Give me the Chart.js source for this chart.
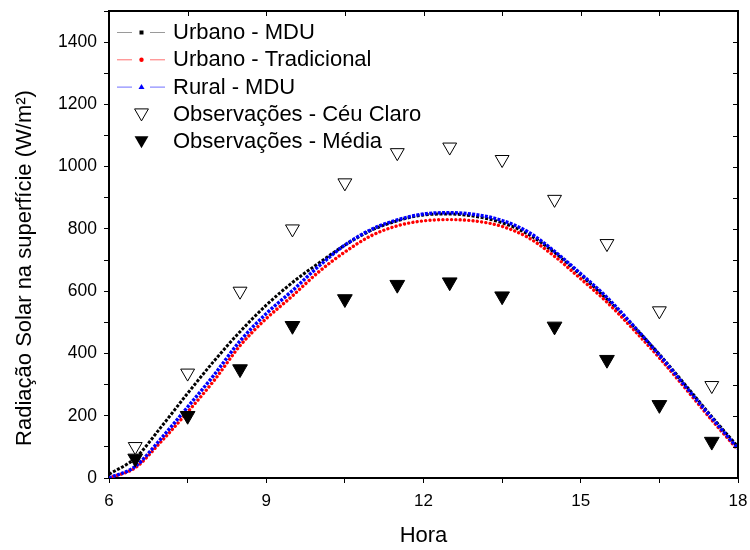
<!DOCTYPE html>
<html>
<head>
<meta charset="utf-8">
<script src="https://cdn.jsdelivr.net/npm/chart.js@4.4.1/dist/chart.umd.min.js"></script>
<style>
  html, body { margin: 0; padding: 0; background: #fff; }
</style>
</head>
<body>
<canvas id="chart" width="750" height="550"></canvas>
<script>
// model curves, every half hour
const hours = [6, 6.5, 7, 7.5, 8, 8.5, 9, 9.5, 10, 10.5, 11, 11.5, 12, 12.5, 13, 13.5, 14, 14.5, 15, 15.5, 16, 16.5, 17, 17.5, 18];
const urbanoMdu = [12, 64, 165, 272, 375, 470, 555, 628, 690, 748, 795, 826, 845, 848, 840, 820, 783, 724, 652, 574, 488, 397, 298, 197, 100];
const urbanoTradicional = [0, 33, 118, 212, 312, 425, 512, 585, 662, 726, 778, 810, 826, 830, 825, 808, 772, 712, 640, 565, 478, 386, 287, 186, 90];
const ruralMdu = [0, 37, 128, 228, 330, 440, 528, 602, 680, 748, 798, 829, 848, 852, 846, 827, 790, 728, 656, 580, 490, 395, 294, 193, 95];

// observations
const obsHours = [6.5, 7.5, 8.5, 9.5, 10.5, 11.5, 12.5, 13.5, 14.5, 15.5, 16.5, 17.5];
const ceuClaro = [101, 337, 600, 800, 948, 1045, 1063, 1023, 895, 753, 537, 297];
const media = [63, 200, 350, 489, 575, 621, 629, 584, 487, 380, 235, 117];

const xTickStep = 1.5;
const yTickStep = 100;

const FONT = "'Liberation Sans', Arial, sans-serif";

function toPoints(xs, ys) {
  return xs.map((x, i) => ({ x: x, y: ys[i] }));
}

// top and right frame with inward ticks, plus the y title
const frameTicks = {
  id: 'frameTicks',
  afterDraw(chart) {
    const ctx = chart.ctx;
    const area = chart.chartArea;
    const xScale = chart.scales.x;
    const yScale = chart.scales.y;
    ctx.save();
    ctx.strokeStyle = '#000';
    ctx.lineWidth = 2;
    ctx.beginPath();
    ctx.moveTo(area.left - 1, area.top);
    ctx.lineTo(area.right, area.top);
    ctx.lineTo(area.right, area.bottom + 1);
    ctx.stroke();
    ctx.lineWidth = 1;
    ctx.beginPath();
    xScale.ticks.forEach(t => {
      const px = Math.round(xScale.getPixelForValue(t.value)) + 0.5;
      ctx.moveTo(px, area.top);
      ctx.lineTo(px, area.top + 5);
    });
    yScale.ticks.forEach(t => {
      const py = Math.round(yScale.getPixelForValue(t.value)) + 0.5;
      ctx.moveTo(area.right, py);
      ctx.lineTo(area.right - 5, py);
    });
    ctx.stroke();

    ctx.translate(25, 268);
    ctx.rotate(-Math.PI / 2);
    ctx.font = '22px ' + FONT;
    ctx.fillStyle = '#000';
    ctx.textAlign = 'center';
    ctx.textBaseline = 'middle';
    ctx.fillText('Radiação Solar na superfície (W/m²)', 0, 0);
    ctx.restore();
  }
};

function drawTriangleDown(ctx, x, y, r, filled) {
  ctx.beginPath();
  ctx.moveTo(x - r * 0.866, y - r * 0.5);
  ctx.lineTo(x + r * 0.866, y - r * 0.5);
  ctx.lineTo(x, y + r);
  ctx.closePath();
  if (filled) {
    ctx.fillStyle = '#000';
    ctx.fill();
  } else {
    ctx.fillStyle = '#fff';
    ctx.fill();
    ctx.strokeStyle = '#000';
    ctx.lineWidth = 1;
    ctx.stroke();
  }
}

// legend inside the plot, drawn like the original (line - symbol - line)
const insideLegend = {
  id: 'insideLegend',
  afterDraw(chart) {
    const ctx = chart.ctx;
    const top = 32;
    const step = 27.3;
    ctx.save();
    ctx.font = '22px ' + FONT;
    ctx.textBaseline = 'middle';
    chart.data.datasets.forEach((ds, i) => {
      const y = top + i * step;
      const cx = 141.5;
      if (ds.legendLine) {
        ctx.strokeStyle = ds.legendLine;
        ctx.lineWidth = 1;
        ctx.beginPath();
        ctx.moveTo(117, y + 0.5);
        ctx.lineTo(132, y + 0.5);
        ctx.moveTo(150, y + 0.5);
        ctx.lineTo(165, y + 0.5);
        ctx.stroke();
        ctx.fillStyle = ds.borderColor;
        if (ds.legendMark === 'square') {
          ctx.fillRect(cx - 2, y - 1.5, 4, 4);
        } else if (ds.legendMark === 'circle') {
          ctx.beginPath();
          ctx.arc(cx, y + 0.5, 2.2, 0, Math.PI * 2);
          ctx.fill();
        } else {
          ctx.beginPath();
          ctx.moveTo(cx, y - 2.5);
          ctx.lineTo(cx + 3, y + 2.5);
          ctx.lineTo(cx - 3, y + 2.5);
          ctx.closePath();
          ctx.fill();
        }
      } else {
        drawTriangleDown(ctx, cx, y - 1, 8, ds.backgroundColor === '#000');
      }
      ctx.fillStyle = '#000';
      ctx.fillText(ds.label, 173, y + 1);
    });
    ctx.restore();
  }
};

const chartConfig = {
  type: 'scatter',
  data: {
    datasets: [
      {
        label: 'Urbano - MDU',
        data: toPoints(hours, urbanoMdu),
        showLine: true,
        borderColor: '#000',
        borderWidth: 3,
        borderDash: [3, 1.6],
        borderCapStyle: 'butt',
        cubicInterpolationMode: 'monotone',
        pointRadius: 0,
        order: 3,
        legendLine: '#9a9a9a',
        legendMark: 'square'
      },
      {
        label: 'Urbano - Tradicional',
        data: toPoints(hours, urbanoTradicional),
        showLine: true,
        borderColor: '#ff0000',
        borderWidth: 3.4,
        borderDash: [0.01, 4.3],
        borderCapStyle: 'round',
        cubicInterpolationMode: 'monotone',
        pointRadius: 0,
        order: 2,
        legendLine: '#ff7070',
        legendMark: 'circle'
      },
      {
        label: 'Rural - MDU',
        data: toPoints(hours, ruralMdu),
        showLine: true,
        borderColor: '#0000ff',
        borderWidth: 3.4,
        borderDash: [3, 1.3],
        borderCapStyle: 'butt',
        cubicInterpolationMode: 'monotone',
        pointRadius: 0,
        order: 1,
        legendLine: '#7070ff',
        legendMark: 'triangle'
      },
      {
        label: 'Observações - Céu Claro',
        data: toPoints(obsHours, ceuClaro),
        pointStyle: 'triangle',
        rotation: 180,
        pointRadius: 8,
        pointHoverRadius: 8,
        backgroundColor: '#fff',
        borderColor: '#000',
        borderWidth: 1,
        order: 0
      },
      {
        label: 'Observações - Média',
        data: toPoints(obsHours, media),
        pointStyle: 'triangle',
        rotation: 180,
        pointRadius: 8.5,
        pointHoverRadius: 8.5,
        backgroundColor: '#000',
        borderColor: '#000',
        borderWidth: 1,
        order: 0
      }
    ]
  },
  options: {
    responsive: false,
    animation: false,
    layout: { padding: { top: 11, right: 12, left: 0, bottom: 0 } },
    plugins: {
      legend: { display: false },
      tooltip: { enabled: false }
    },
    scales: {
      x: {
        type: 'linear',
        min: 6,
        max: 18,
        afterFit(scale) {
          scale.height = 72;
          scale.paddingLeft = 0;
          scale.paddingRight = 0;
        },
        border: { color: '#000', width: 2 },
        grid: { drawOnChartArea: false, drawTicks: true, tickLength: 5, color: '#000' },
        ticks: {
          stepSize: xTickStep,
          autoSkip: false,
          maxRotation: 0,
          padding: 8,
          color: '#000',
          font: { family: FONT, size: 17 },
          callback: v => (v % 3 === 0 ? v : '')
        },
        title: {
          display: true,
          text: 'Hora',
          color: '#000',
          font: { family: FONT, size: 22 },
          padding: { top: 0, bottom: 1 }
        }
      },
      y: {
        min: 0,
        max: 1500,
        afterFit(scale) {
          scale.width = 109;
          scale.paddingTop = 0;
          scale.paddingBottom = 0;
        },
        border: { color: '#000', width: 2 },
        grid: { drawOnChartArea: false, drawTicks: true, tickLength: 5, color: '#000' },
        ticks: {
          stepSize: yTickStep,
          autoSkip: false,
          padding: 7,
          color: '#000',
          font: { family: FONT, size: 17.5 },
          callback: v => (v % 200 === 0 ? v : '')
        }
      }
    }
  },
  plugins: [frameTicks, insideLegend]
};

new Chart(document.getElementById('chart').getContext('2d'), chartConfig);
</script>
</body>
</html>
